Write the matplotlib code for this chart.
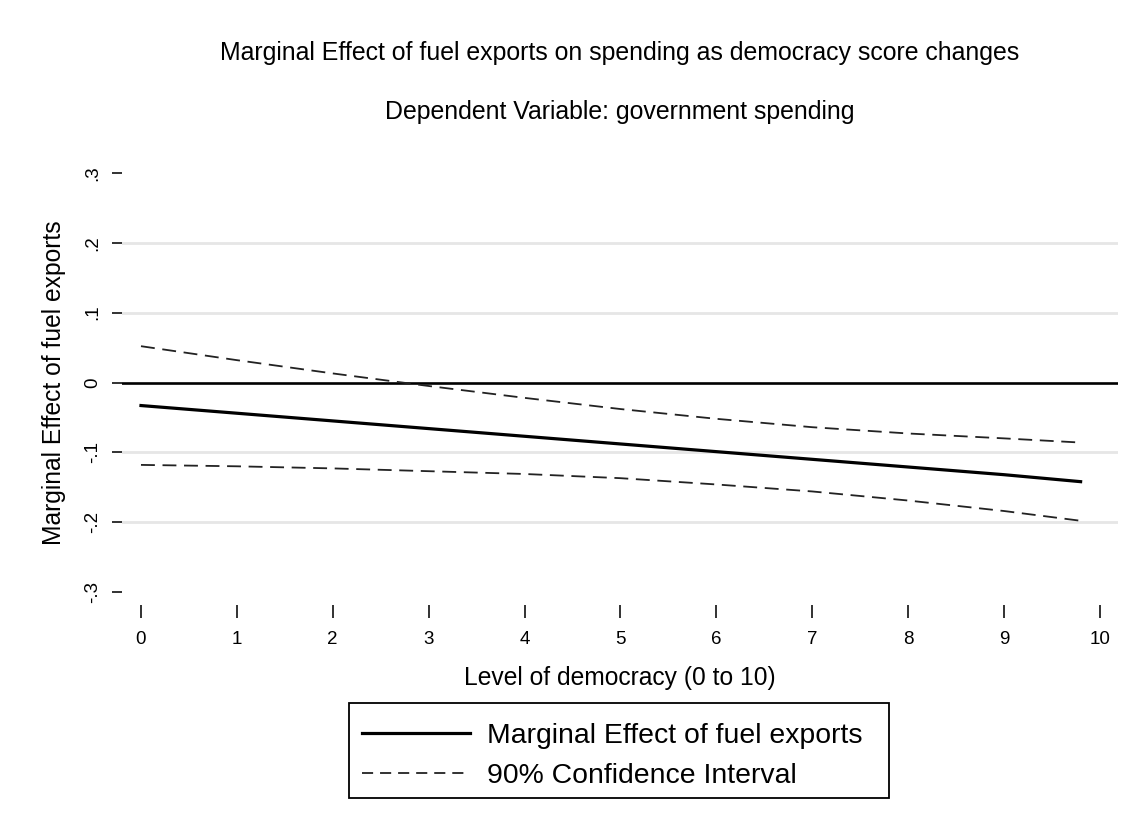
import matplotlib
matplotlib.use("Agg")
import matplotlib.pyplot as plt
from matplotlib.lines import Line2D
from matplotlib.patches import Rectangle

plt.rcParams["font.family"] = ["Liberation Sans", "DejaVu Sans"]
plt.rcParams["lines.scale_dashes"] = False

# democracy score grid and the estimated marginal effect with its 90% band
democracy = [0, 1, 2, 3, 4, 5, 6, 7, 8, 9, 9.8]
marg_effect = [-0.033, -0.044, -0.055, -0.066, -0.077, -0.088,
               -0.099, -0.110, -0.121, -0.132, -0.142]
ci_upper = [0.052, 0.032, 0.013, -0.005, -0.022, -0.038,
            -0.052, -0.064, -0.073, -0.080, -0.086]
ci_lower = [-0.118, -0.120, -0.123, -0.127, -0.131, -0.137,
            -0.146, -0.156, -0.169, -0.184, -0.198]

x_ticks = list(range(0, 11))
y_ticks = [-0.3, -0.2, -0.1, 0, 0.1, 0.2, 0.3]
y_ticklabels = ["-.3", "-.2", "-.1", "0", ".1", ".2", ".3"]
legend_labels = ["Marginal Effect of fuel exports", "90% Confidence Interval"]

W, H = 1134, 832
fig = plt.figure(figsize=(W / 100, H / 100), dpi=100)
fig.patch.set_facecolor("white")


def fx(px):
    return px / W


def fy(py):
    return 1 - py / H


# axes box in pixel terms
left, right, top, bottom = 122, 1118, 173, 592
ax = fig.add_axes([fx(left), fy(bottom), (right - left) / W, (bottom - top) / H])

# light grid at interior y ticks only, solid reference line at zero
for yv in y_ticks[1:-1]:
    if yv != 0:
        ax.axhline(yv, color="#e6e6e6", lw=2.0, zorder=0)
ax.axhline(0, color="black", lw=1.9, zorder=2)

ci_style = dict(color="#222222", lw=1.3, dashes=(10, 5.5), zorder=3)
ax.plot(democracy, ci_upper, **ci_style)
ax.plot(democracy, ci_lower, **ci_style)
ax.plot(democracy, marg_effect, color="black", lw=2.3, zorder=4)

ax.set_xlim(-0.198, 10.19)
ax.set_ylim(-0.3, 0.3)

for s in ax.spines.values():
    s.set_visible(False)
ax.spines["bottom"].set_position(("outward", 9.4))

ax.set_xticks(x_ticks)
ax.set_yticks(y_ticks)
ax.set_yticklabels(y_ticklabels)
ax.tick_params(axis="x", direction="out", length=9.4, width=1.3, pad=9,
               labelsize=13.5, color="#222222")
ax.tick_params(axis="y", direction="out", length=7.2, width=1.3, pad=8,
               labelsize=13.5, labelrotation=90, color="#222222")
for lbl in ax.get_yticklabels():
    lbl.set_va("center")

ax.set_xlabel("Level of democracy (0 to 10)", fontsize=17.7, labelpad=13)
ax.set_ylabel("Marginal Effect of fuel exports", fontsize=17.7, labelpad=13)

cx = fx((left + right) / 2)
fig.text(cx, fy(53), "Marginal Effect of fuel exports on spending as democracy score changes",
         ha="center", va="center", fontsize=17.9)
fig.text(cx, fy(112), "Dependent Variable: government spending",
         ha="center", va="center", fontsize=17.9)

# legend box below the plot
fig.add_artist(Rectangle((fx(349), fy(798)), fx(889) - fx(349), fy(703) - fy(798),
                         transform=fig.transFigure, facecolor="white",
                         edgecolor="black", lw=1.3))
fig.add_artist(Line2D([fx(362), fx(470)], [fy(733), fy(733)],
                      transform=fig.transFigure, color="black", lw=2.3))
fig.add_artist(Line2D([fx(362), fx(470)], [fy(773), fy(773)],
                      transform=fig.transFigure, color="#222222", lw=1.3,
                      dashes=(8, 5)))
fig.text(fx(487), fy(733), legend_labels[0], ha="left", va="center_baseline",
         fontsize=20.4)
fig.text(fx(487), fy(773), legend_labels[1], ha="left", va="center_baseline",
         fontsize=20.4)

fig.savefig("out.png", dpi=100, facecolor="white")
